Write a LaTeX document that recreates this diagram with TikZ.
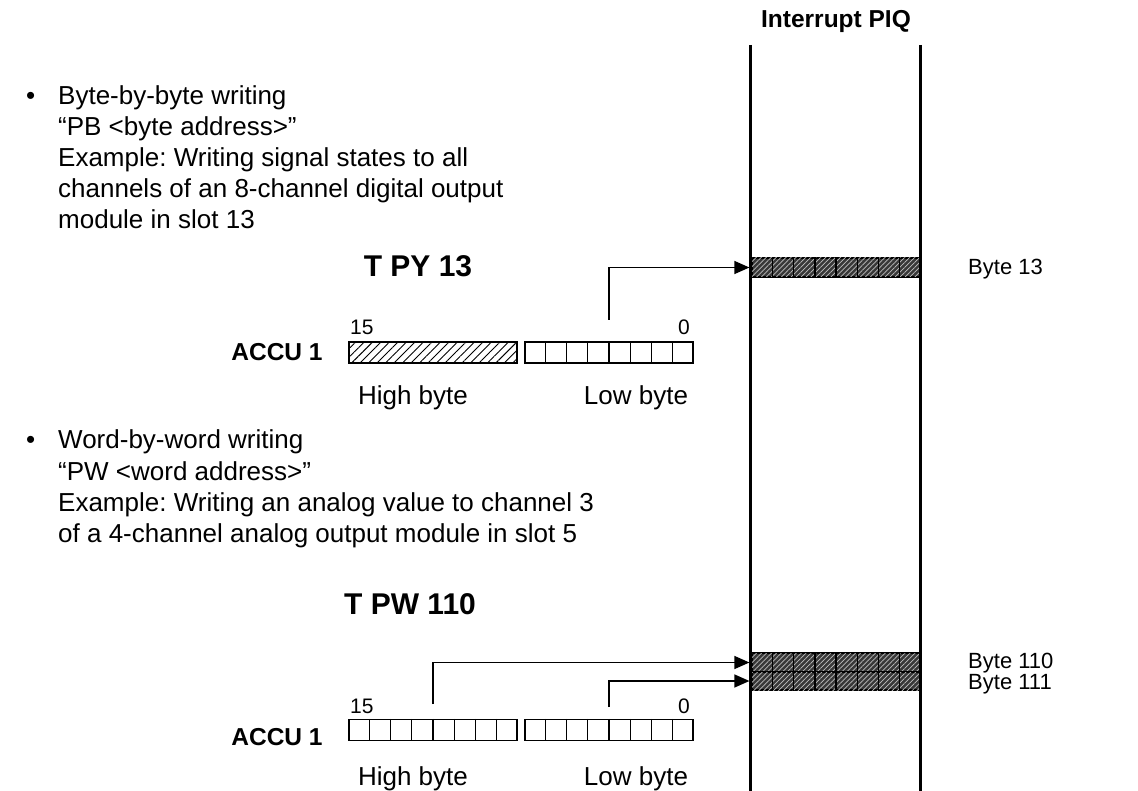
\documentclass[tikz,border=0pt]{standalone}
\usepackage{fontspec}
\setmainfont{Liberation Sans}
\usetikzlibrary{arrows.meta,patterns,patterns.meta,calc}
\frenchspacing
\begin{document}
\begin{tikzpicture}[x=1pt,y=-1pt,
  txt/.style={inner sep=0pt, anchor=base west, font=\fontsize{26}{30}\selectfont},
  lbl/.style={inner sep=0pt, anchor=base west, font=\fontsize{22}{24}\selectfont},
  bold/.style={inner sep=0pt, font=\fontsize{24.5}{28}\selectfont\bfseries},
  big/.style={inner sep=0pt, font=\fontsize{30}{34}\selectfont\bfseries},
  small/.style={inner sep=0pt, anchor=base, font=\fontsize{21}{24}\selectfont},
  reg/.style={draw, line width=1.3pt, minimum width=168pt, minimum height=21pt, inner sep=0pt},
  hatchreg/.style={reg, pattern={Lines[angle=45,distance=6pt,line width=0.9pt]}},
  byterow/.style={draw, line width=1.2pt, minimum width=168pt, inner sep=0pt,
    fill=black!78, postaction={pattern={Lines[angle=45,distance=3.5pt,line width=0.7pt]}, pattern color=white!75!black}},
  piq/.style={line width=3pt},
  arr/.style={line width=1.3pt, -{Triangle[length=15pt,width=13pt]}}
]
\useasboundingbox (0,0) rectangle (1138,791);

% ---- Interrupt PIQ column ----
\node[bold] (title) at (836,21) {Interrupt PIQ};
\node[byterow, minimum height=19pt] (b13) at (836,267.5) {};
\node[byterow, minimum height=19pt] (b110) at (836,662.5) {};
\node[byterow, minimum height=18pt] (b111) at (836,681) {};
\foreach \r in {b13,b110,b111}{
  \foreach \i in {1,...,7}{
    \draw[line width=1.3pt] ($(\r.north west)!\i/8!(\r.north east)$) -- ($(\r.south west)!\i/8!(\r.south east)$);
  }
}
\coordinate (lt) at (750,45);
\coordinate (lb) at (750,791);
\coordinate (rt) at (920,45);
\coordinate (rb) at (920,791);
\draw[piq] (lt) -- (lb);
\draw[piq] (rt) -- (rb);

\node[lbl] (l13) at (968,275) {Byte 13};
\node[lbl] (l110) at (968,668) {Byte 110};
\node[lbl] (l111) at (968,689.5) {Byte 111};

% ---- Section 1 ----
\node[txt] (bul1) at (26,105) {\textbullet};
\node[txt] (t11) at (58,105) {Byte-by-byte writing};
\node[txt] (t12) at (58,136) {“PB <byte address>”};
\node[txt] (t13) at (58,167) {Example: Writing signal states to all};
\node[txt] (t14) at (58,198) {channels of an 8-channel digital output};
\node[txt] (t15) at (58,229) {module in slot 13};

\node[big] (cmd1) at (418,266) {T PY 13};
\node[bold] (acc1) at (277,352.5) {ACCU 1};
\node[hatchreg] (hi1) at (433,352.5) {};
\node[reg] (lo1) at (609,352.5) {};
\foreach \i in {1,...,7}{
  \draw[line width=1.3pt] ($(lo1.north west)!\i/8!(lo1.north east)$) -- ($(lo1.south west)!\i/8!(lo1.south east)$);
}
\node[small, anchor=base west] (n15a) at (350,335) {15};
\node[small, anchor=base east] (n0a) at (690,335) {0};
\node[txt, anchor=base] (hb1) at (413,405) {High byte};
\node[txt, anchor=base] (lb1) at (636,405) {Low byte};
\coordinate (s1) at (609,320);
\draw[arr] (s1) |- ([xshift=-2pt]b13.west);

% ---- Section 2 ----
\node[txt] (bul2) at (26,449) {\textbullet};
\node[txt] (t21) at (58,449) {Word-by-word writing};
\node[txt] (t22) at (58,480) {“PW <word address>”};
\node[txt] (t23) at (58,511) {Example: Writing an analog value to channel 3};
\node[txt] (t24) at (58,542) {of a 4-channel analog output module in slot 5};

\node[big] (cmd2) at (410,604) {T PW 110};
\node[bold] (acc2) at (277,737) {ACCU 1};
\node[reg] (hi2) at (433,730) {};
\node[reg] (lo2) at (609,730) {};
\foreach \r in {hi2,lo2}{
  \foreach \i in {1,...,7}{
    \draw[line width=1.3pt] ($(\r.north west)!\i/8!(\r.north east)$) -- ($(\r.south west)!\i/8!(\r.south east)$);
  }
}
\node[small, anchor=base west] (n15b) at (350,713) {15};
\node[small, anchor=base east] (n0b) at (690,713) {0};
\node[txt, anchor=base] (hb2) at (413,785) {High byte};
\node[txt, anchor=base] (lb2) at (636,785) {Low byte};
\coordinate (s2) at (433,704);
\coordinate (s3) at (609,707);
\draw[arr] (s2) |- ([xshift=-2pt]b110.west);
\draw[arr] (s3) |- ([xshift=-2pt]b111.west);
\end{tikzpicture}
\end{document}
